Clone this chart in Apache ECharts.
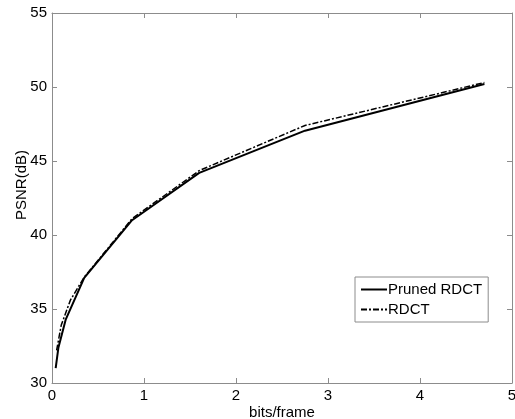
<!DOCTYPE html>
<html><head><meta charset="utf-8">
<script src="https://cdn.jsdelivr.net/npm/echarts@6/dist/echarts.min.js"></script>
<style>html,body{margin:0;padding:0;background:#fff}#c{width:515px;height:419px}</style>
</head><body><div id="c"></div>
<script>
const seriesNames = ['Pruned RDCT', 'RDCT'];
const prunedX = [0.04, 0.07, 0.15, 0.35, 0.87, 1.6, 2.75, 4.7];
const prunedY = [31.0, 32.4, 34.3, 37.1, 41.0, 44.2, 47.05, 50.2];
const rdctX = [0.05, 0.1, 0.2, 0.35, 0.87, 1.6, 2.75, 4.7];
const rdctY = [32.2, 33.9, 35.6, 37.15, 41.1, 44.35, 47.4, 50.3];
const xTicks = [0, 1, 2, 3, 4, 5];
const yTicks = [30, 35, 40, 45, 50, 55];

const font = 'Liberation Sans, Arial, sans-serif';
const axisGray = '#8c8c8c';
const chart = echarts.init(document.getElementById('c'), null, {renderer: 'canvas'});
const zip = (xs, ys) => xs.map((x, i) => [x, ys[i]]);
const baseAxis = {
  axisLine: {show: true, onZero: false, lineStyle: {color: axisGray, width: 1}},
  axisTick: {show: true, inside: true, length: 5, lineStyle: {color: axisGray}},
  splitLine: {show: false},
  nameMoveOverlap: false
};
chart.setOption({
  animation: false,
  grid: {left: 52, right: 3, top: 13, bottom: 36, containLabel: false, outerBoundsMode: 'none'},
  legend: {
    orient: 'vertical', left: 355, top: 277,
    data: seriesNames,
    borderColor: '#8c8c8c', borderWidth: 1, borderRadius: 0,
    padding: [5, 6, 5, 5],
    itemGap: 5, itemWidth: 26, itemHeight: 14,
    itemStyle: {opacity: 0},
    textStyle: {fontFamily: font, fontSize: 15, color: '#000', padding: [0, 0, 0, -4]}
  },
  xAxis: [
    Object.assign({}, baseAxis, {
      type: 'value', min: xTicks[0], max: xTicks[xTicks.length - 1], interval: 1,
      name: 'bits/frame', nameLocation: 'middle', nameGap: 22,
      nameTextStyle: {fontFamily: font, fontSize: 15, color: '#000'},
      axisLabel: {fontFamily: font, fontSize: 15, color: '#000', margin: 5}
    }),
    Object.assign({}, baseAxis, {
      type: 'value', position: 'top', min: 0, max: 5, interval: 1,
      axisLabel: {show: false}
    })
  ],
  yAxis: [
    Object.assign({}, baseAxis, {
      type: 'value', min: yTicks[0], max: yTicks[yTicks.length - 1], interval: 5,
      name: 'PSNR(dB)', nameLocation: 'middle', nameGap: 23,
      nameTextStyle: {fontFamily: font, fontSize: 15, color: '#000', padding: [0, 0, 0, 26]},
      axisLabel: {fontFamily: font, fontSize: 15, color: '#000', margin: 5}
    }),
    Object.assign({}, baseAxis, {
      type: 'value', position: 'right', min: 30, max: 55, interval: 5,
      axisLabel: {show: false}
    })
  ],
  series: [
    {
      name: seriesNames[0], type: 'line', data: zip(prunedX, prunedY),
      symbol: 'none', lineStyle: {color: '#000', width: 2, type: 'solid'},
      itemStyle: {color: '#000'}
    },
    {
      name: seriesNames[1], type: 'line', data: zip(rdctX, rdctY),
      symbol: 'none', lineStyle: {color: '#000', width: 1.5, type: [6, 2, 2, 2]},
      itemStyle: {color: '#000'}
    }
  ]
});
</script></body></html>
